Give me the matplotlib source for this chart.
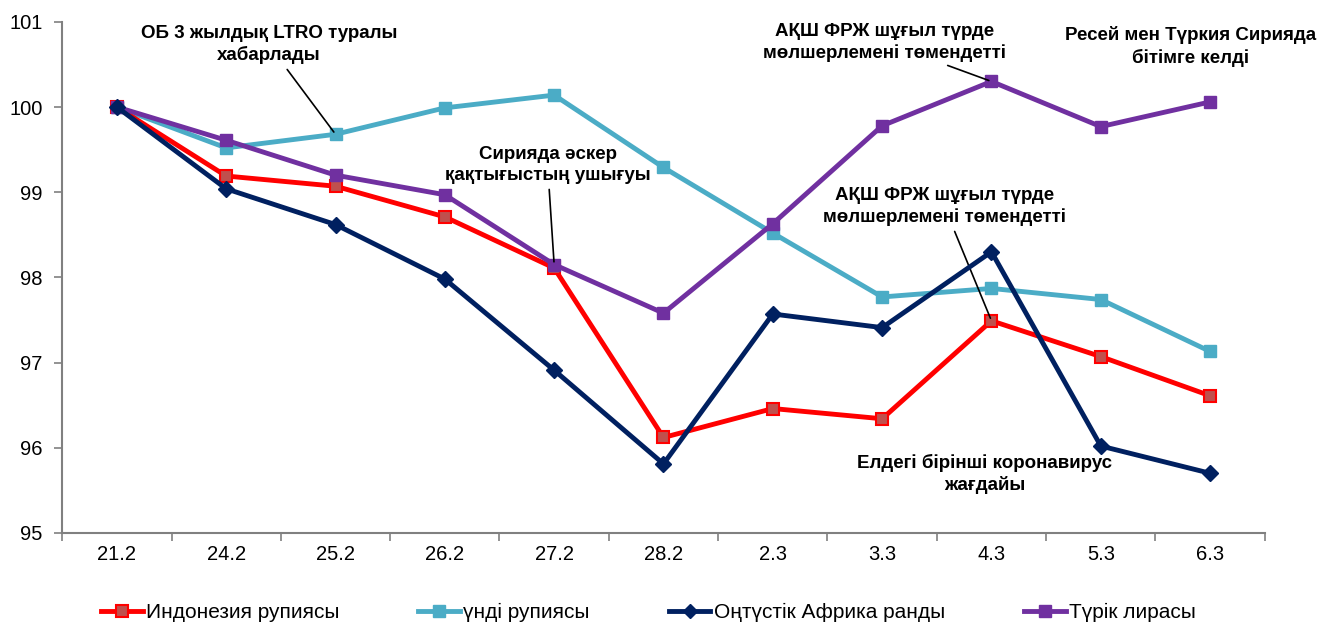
import numpy as np
import matplotlib.pyplot as plt

plt.rcParams['font.family'] = ['Liberation Sans', 'DejaVu Sans']

dates = ['21.2', '24.2', '25.2', '26.2', '27.2', '28.2', '2.3', '3.3', '4.3', '5.3', '6.3']
indonesia = [100.0, 99.19, 99.07, 98.71, 98.11, 96.12, 96.46, 96.34, 97.49, 97.07, 96.61]
india = [100.0, 99.52, 99.68, 99.99, 100.14, 99.29, 98.52, 97.77, 97.87, 97.74, 97.13]
south_africa = [100.0, 99.04, 98.62, 97.98, 96.91, 95.81, 97.57, 97.41, 98.30, 96.02, 95.70]
turkey = [100.0, 99.61, 99.20, 98.97, 98.15, 97.58, 98.63, 99.78, 100.30, 99.77, 100.06]

names = ['Индонезия рупиясы', 'үнді рупиясы', 'Оңтүстік Африка ранды', 'Түрік лирасы']

x = np.arange(len(dates))

fig = plt.figure(figsize=(13.23, 6.24), dpi=100)
ax = fig.add_axes([0.047, 0.146, 0.909, 0.819])

ax.plot(x, indonesia, color='#FF0000', lw=3.5, marker='s', ms=9,
        mfc='#C0504D', mec='#FF0000', mew=1.5, label=names[0], zorder=3)
ax.plot(x, india, color='#4BACC6', lw=3.5, marker='s', ms=9,
        mfc='#4BACC6', mec='#4BACC6', label=names[1], zorder=2)
ax.plot(x, south_africa, color='#002060', lw=3.5, marker='D', ms=8,
        mfc='#002060', mec='#002060', label=names[2], zorder=4)
ax.plot(x, turkey, color='#7030A0', lw=3.5, marker='s', ms=9,
        mfc='#7030A0', mec='#7030A0', label=names[3], zorder=3)

ax.set_xlim(-0.5, len(dates) - 0.5)
ax.set_ylim(95, 101)
ax.set_yticks([95, 96, 97, 98, 99, 100, 101])
ax.set_xticks(x)
ax.set_xticklabels(dates)
ax.set_xticks(np.arange(-0.5, len(dates), 1), minor=True)
ax.tick_params(axis='x', which='major', length=0, pad=9, labelsize=14.5)
ax.tick_params(axis='x', which='minor', length=6, color='#808080', width=1.2)
ax.tick_params(axis='y', length=6, color='#808080', width=1.2, labelsize=14.5, pad=8)

for s in ['top', 'right']:
    ax.spines[s].set_visible(False)
for s in ['left', 'bottom']:
    ax.spines[s].set_color('#808080')
    ax.spines[s].set_linewidth(1.5)

txt = dict(fontsize=13.5, fontweight='bold', ha='center', va='center', linespacing=1.3)
arr = dict(arrowstyle='-', color='black', lw=1.2)

ax.annotate('ОБ 3 жылдық LTRO туралы\nхабарлады', xy=(2, india[2]), xytext=(1.39, 100.73),
            arrowprops=arr, **txt)
ax.annotate('Сирияда әскер\nқақтығыстың ушығуы', xy=(4, turkey[4]), xytext=(3.94, 99.32),
            arrowprops=arr, **txt)
ax.annotate('АҚШ ФРЖ шұғыл түрде\nмөлшерлемені төмендетті', xy=(8, turkey[8]), xytext=(7.02, 100.76),
            arrowprops=arr, **txt)
ax.text(9.82, 100.71, 'Ресей мен Түркия Сирияда\nбітімге келді', **txt)
ax.annotate('АҚШ ФРЖ шұғыл түрде\nмөлшерлемені төмендетті', xy=(8, indonesia[8]), xytext=(7.57, 98.83),
            arrowprops=arr, **txt)
ax.text(7.94, 95.69, 'Елдегі бірінші коронавирус\nжағдайы', **txt)

fig.legend(loc='lower center', bbox_to_anchor=(0.49, -0.027), ncol=4, frameon=False,
           fontsize=15, handlelength=2.0, handletextpad=0.15, columnspacing=3.8,
           markerscale=0.9)

fig.savefig('out.png', dpi=100)
